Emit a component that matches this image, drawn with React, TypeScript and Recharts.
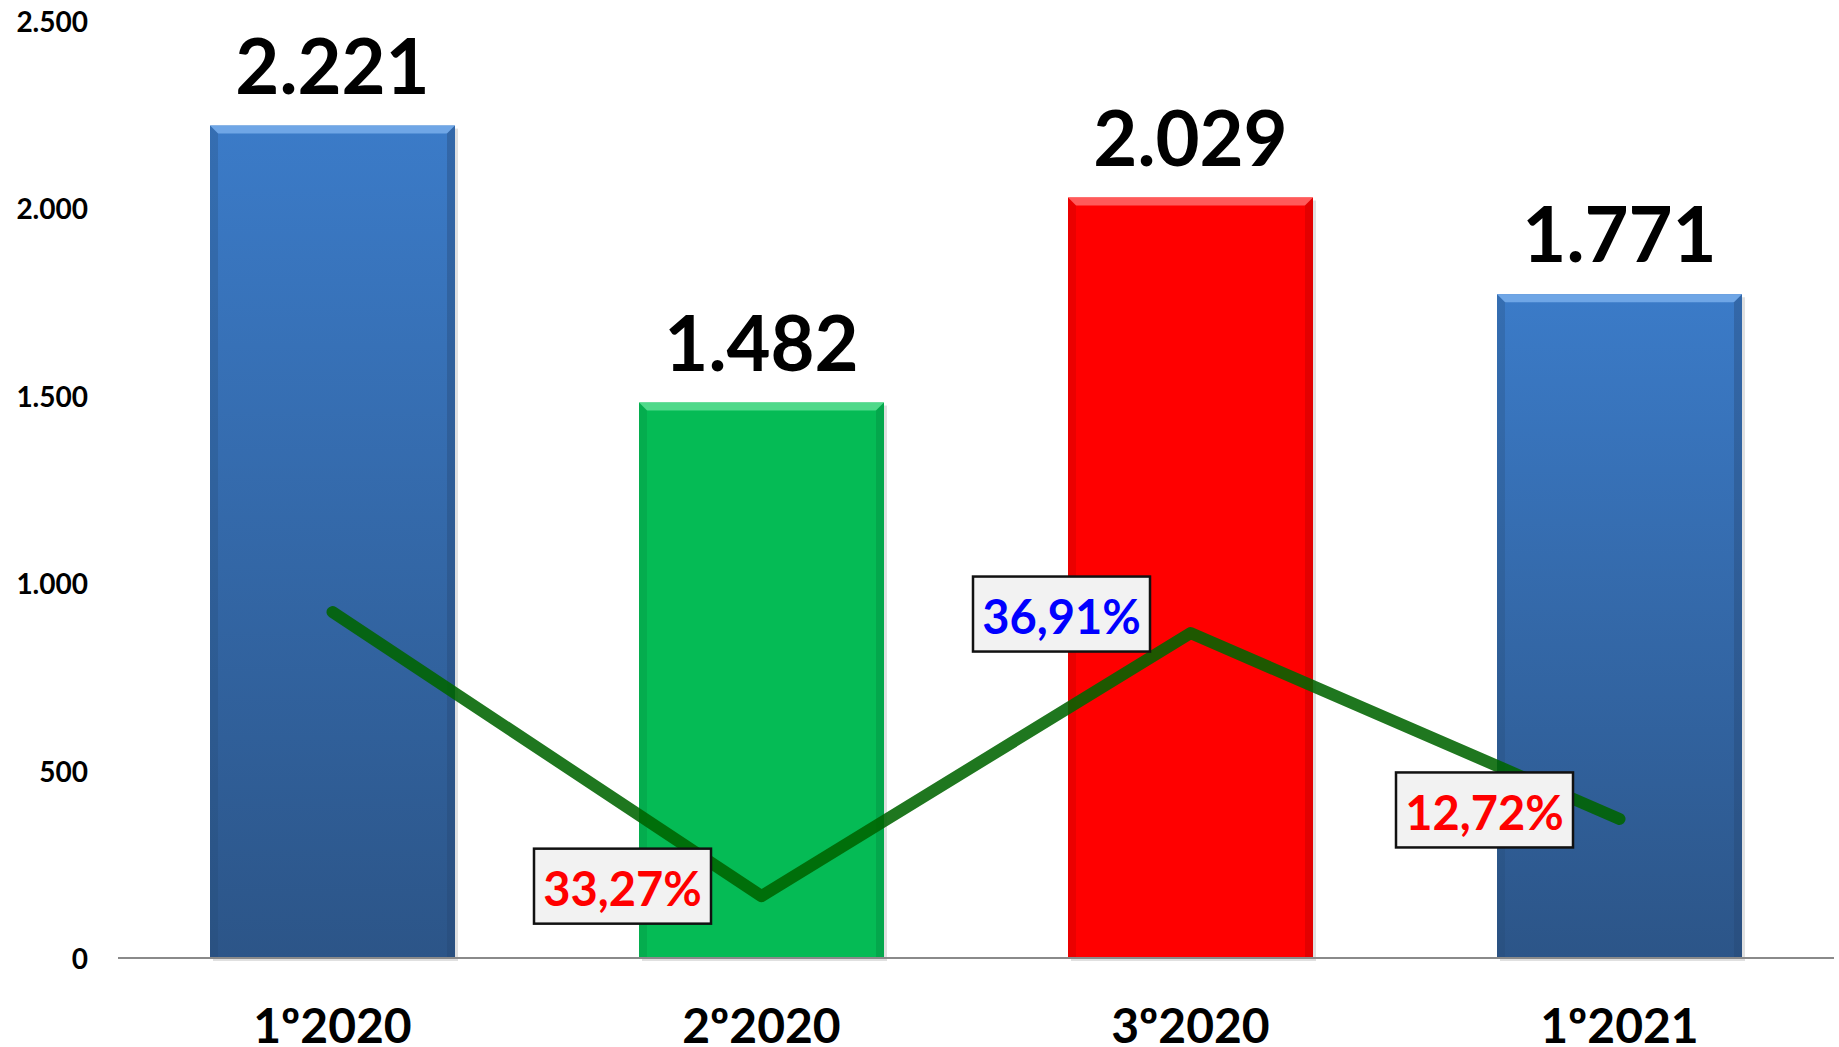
import React from 'react';
import { ComposedChart, Bar, Line, XAxis, YAxis, LabelList } from 'recharts';

const categories = ['1º2020', '2º2020', '3º2020', '1º2021'];
const barValues = [2221, 1482, 2029, 1771];
const barLabels = ['2.221', '1.482', '2.029', '1.771'];
const lineValues = [923, 165, 867, 371];
const changeLabels = ['', '33,27%', '36,91%', '12,72%'];
const yTicks = [0, 500, 1000, 1500, 2000, 2500];
const yTickLabels = ['0', '500', '1.000', '1.500', '2.000', '2.500'];

const data = categories.map((c, i) => ({
  name: c,
  value: barValues[i],
  label: barLabels[i],
  line: lineValues[i],
  change: changeLabels[i],
}));

const FONT = 'Lato, "Open Sans", sans-serif';

const barStyles = [
  { fill: 'url(#blueGrad)', bevel: '#6fa6e6', edge: '#24466f' },
  { fill: '#05BB55', bevel: '#4fd98a', edge: '#04843c' },
  { fill: '#FF0000', bevel: '#ff5a5a', edge: '#b00000' },
  { fill: 'url(#blueGrad)', bevel: '#6fa6e6', edge: '#24466f' },
];

const changeColors = ['#000', '#FF0000', '#0000FF', '#FF0000'];
const changeOffsets = [
  [0, 0],
  [-139, -10],
  [-129, -19],
  [-135, -9],
];

const BevelBar = (props: any) => {
  const { x, y, width, height, index } = props;
  const s = barStyles[index];
  const b = 8;
  return (
    <g>
      <rect x={x + 3} y={y + 3} width={width} height={height} fill="rgba(0,0,0,0.12)" />
      <rect x={x} y={y} width={width} height={height} fill={s.fill} />
      <polygon
        points={`${x},${y} ${x + width},${y} ${x + width - b},${y + b} ${x + b},${y + b}`}
        fill={s.bevel}
      />
      <polygon
        points={`${x},${y} ${x + b},${y + b} ${x + b},${y + height} ${x},${y + height}`}
        fill={s.edge}
        opacity={0.25}
      />
      <polygon
        points={`${x + width},${y} ${x + width - b},${y + b} ${x + width - b},${y + height} ${x + width},${y + height}`}
        fill={s.edge}
        opacity={0.35}
      />
    </g>
  );
};

const BarValueLabel = (props: any) => {
  const { x, y, width, value } = props;
  return (
    <text
      x={x + width / 2}
      y={y - 32}
      textAnchor="middle"
      fontFamily={FONT}
      fontWeight={700}
      fontSize={76}
      fill="#000"
    >
      {value}
    </text>
  );
};

const ChangeLabel = (props: any) => {
  const { x, y, index, value } = props;
  if (!value) return null;
  const [dx, dy] = changeOffsets[index];
  const cx = x + dx;
  const cy = y + dy;
  const w = 177;
  const h = 75;
  return (
    <g>
      <rect x={cx - w / 2} y={cy - h / 2} width={w} height={h} fill="#F2F2F2" stroke="#111" strokeWidth={2.5} />
      <text
        x={cx}
        y={cy + 2}
        textAnchor="middle"
        dominantBaseline="central"
        fontFamily={FONT}
        fontWeight={700}
        fontSize={47}
        fill={changeColors[index]}
      >
        {value}
      </text>
    </g>
  );
};

const XTick = (props: any) => {
  const { x, payload } = props;
  return (
    <text
      x={x}
      y={1043}
      textAnchor="middle"
      fontFamily={FONT}
      fontWeight={700}
      fontSize={48}
      fill="#000"
    >
      {payload.value}
    </text>
  );
};

const YTick = (props: any) => {
  const { y, payload } = props;
  const i = yTicks.indexOf(payload.value);
  return (
    <text
      x={88}
      y={y}
      textAnchor="end"
      dominantBaseline="central"
      fontFamily={FONT}
      fontWeight={700}
      fontSize={28}
      fill="#000"
    >
      {yTickLabels[i]}
    </text>
  );
};

export default function App() {
  return (
    <div style={{ position: 'absolute', left: 0, top: 0, width: 1839, height: 1047, background: '#fff' }}>
      <ComposedChart
        width={1839}
        height={1047}
        data={data}
        margin={{ top: 21, right: 5, left: 0, bottom: 0 }}
      >
        <defs>
          <linearGradient id="blueGrad" x1="0" y1="0" x2="0" y2="1">
            <stop offset="0%" stopColor="#3B7BC8" />
            <stop offset="100%" stopColor="#2C5588" />
          </linearGradient>
        </defs>
        <XAxis
          dataKey="name"
          height={89}
          axisLine={{ stroke: '#8A8A8A', strokeWidth: 2 }}
          tickLine={false}
          tick={<XTick />}
          interval={0}
        />
        <YAxis
          width={118}
          domain={[0, 2500]}
          ticks={yTicks}
          axisLine={false}
          tickLine={false}
          tick={<YTick />}
          interval={0}
        />
        <Bar dataKey="value" barSize={245} shape={<BevelBar />} isAnimationActive={false}>
          <LabelList dataKey="label" content={<BarValueLabel />} />
        </Bar>
        <Line
          dataKey="line"
          stroke="#006400"
          strokeOpacity={0.88}
          strokeWidth={12}
          strokeLinecap="round"
          strokeLinejoin="round"
          dot={false}
          activeDot={false}
          isAnimationActive={false}
        >
          <LabelList dataKey="change" content={<ChangeLabel />} />
        </Line>
      </ComposedChart>
    </div>
  );
}
